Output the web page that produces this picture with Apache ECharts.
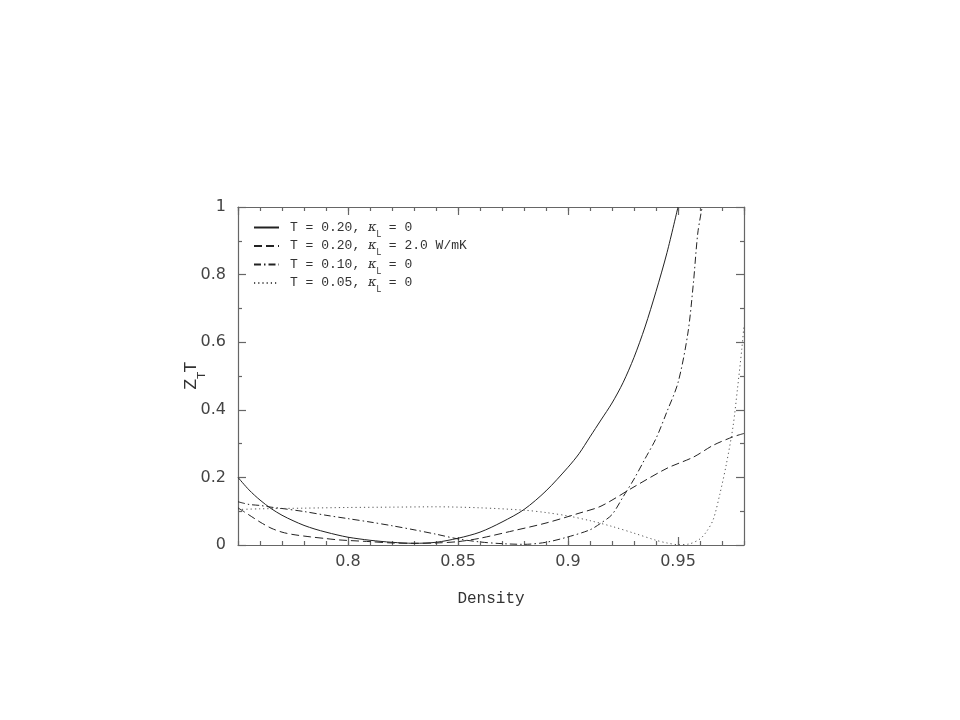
<!DOCTYPE html>
<html><head><meta charset="utf-8">
<script src="https://cdn.jsdelivr.net/npm/echarts@6/dist/echarts.min.js"></script>
<style>html,body{margin:0;background:#fff}#c{width:960px;height:720px}</style>
</head><body><div id="c"></div>
<script>
const seriesNames = ['T = 0.20, κL = 0', 'T = 0.20, κL = 2.0 W/mK', 'T = 0.10, κL = 0', 'T = 0.05, κL = 0'];

const solidX = [0.75,0.755,0.76,0.765,0.77,0.775,0.78,0.785,0.79,0.795,0.80,0.81,0.82,0.83,0.84,0.85,0.86,0.87,0.88,0.89,0.90,0.905,0.91,0.915,0.92,0.925,0.93,0.935,0.94,0.945,0.95];
const solidY = [0.200,0.163,0.133,0.108,0.088,0.072,0.058,0.047,0.038,0.030,0.023,0.014,0.008,0.005,0.008,0.020,0.038,0.068,0.105,0.160,0.230,0.270,0.320,0.370,0.420,0.480,0.555,0.645,0.750,0.865,1.000];

const dashedX = [0.75,0.755,0.76,0.765,0.77,0.775,0.783,0.79,0.796,0.81,0.82,0.83,0.84,0.85,0.86,0.875,0.89,0.905,0.915,0.93,0.945,0.957,0.966,0.975,0.98];
const dashedY = [0.110,0.089,0.068,0.050,0.038,0.031,0.024,0.019,0.015,0.010,0.006,0.005,0.006,0.010,0.020,0.042,0.065,0.094,0.115,0.172,0.227,0.260,0.295,0.320,0.330];

const dashDotX = [0.75,0.755,0.76,0.765,0.77,0.78,0.79,0.80,0.81,0.82,0.83,0.84,0.85,0.86,0.87,0.88,0.89,0.90,0.91,0.915,0.92,0.925,0.93,0.935,0.94,0.945,0.95,0.9545,0.957,0.959,0.961];
const dashDotY = [0.128,0.120,0.117,0.112,0.108,0.099,0.088,0.078,0.068,0.057,0.045,0.032,0.018,0.009,0.004,0.002,0.008,0.024,0.045,0.065,0.090,0.142,0.195,0.255,0.315,0.395,0.480,0.627,0.775,0.923,1.000];

const dottedX = [0.75,0.76,0.78,0.80,0.82,0.84,0.86,0.88,0.89,0.90,0.91,0.92,0.93,0.94,0.945,0.95,0.955,0.96,0.963,0.966,0.969,0.972,0.975,0.977,0.979,0.98];
const dottedY = [0.105,0.107,0.109,0.111,0.112,0.113,0.110,0.103,0.096,0.086,0.072,0.055,0.035,0.014,0.006,0.001,0.003,0.018,0.040,0.075,0.150,0.240,0.350,0.460,0.580,0.650];

const xMin = 0.75, xMax = 0.98, xMajor = 0.05, xMinor = 0.01;
const yMin = 0, yMax = 1, yMajor = 0.2;

function pairs(xs, ys) { return xs.map((x, i) => [x, ys[i]]); }

const lineColors = ['#222', '#222', '#222', '#555'];
const axisColor = '#666';
const labelFont = 'DejaVu Sans';
const monoFont = 'Liberation Mono';

function xAxisDef(pos, interval, tickLen, showLabel, showLine) {
  return {
    type: 'value', position: pos, min: xMin, max: xMax, interval: interval,
    axisLine: { show: showLine, onZero: false, lineStyle: { color: axisColor, width: 1.2 } },
    axisTick: { show: true, inside: true, length: tickLen, lineStyle: { color: axisColor, width: 1.2 } },
    axisLabel: { show: showLabel, showMinLabel: false, showMaxLabel: false, margin: 9,
      fontFamily: labelFont, fontSize: 16, color: '#444' },
    splitLine: { show: false }
  };
}
function yAxisDef(pos, showLabel) {
  const a = {
    type: 'value', position: pos, min: yMin, max: yMax, interval: yMajor,
    axisLine: { show: true, onZero: false, lineStyle: { color: axisColor, width: 1.2 } },
    axisTick: { show: true, inside: true, length: 8, lineStyle: { color: axisColor, width: 1.2 } },
    minorTick: { show: true, splitNumber: 2, length: 4, lineStyle: { color: axisColor, width: 1.2 } },
    axisLabel: { show: showLabel, margin: 12, fontFamily: labelFont, fontSize: 16, color: '#444' },
    splitLine: { show: false }
  };
  if (showLabel) {
    a.name = '{z|Z}{s|T}{z|T}';
    a.nameLocation = 'middle';
    a.nameRotate = 90;
    a.nameGap = 36;
    a.nameMoveOverlap = false;
    a.nameTextStyle = {
      rich: {
        z: { fontFamily: labelFont, fontSize: 16, color: '#333', lineHeight: 20, verticalAlign: 'middle' },
        s: { fontFamily: labelFont, fontSize: 11, color: '#333', lineHeight: 20, verticalAlign: 'bottom', padding: [0,0,-6,0] }
      }
    };
  }
  return a;
}

const styles = [
  { type: 'solid' },
  { type: [8, 4] },
  { type: [7, 3, 1.5, 3] },
  { type: [1.2, 3] }
];
const dataSets = [pairs(solidX, solidY), pairs(dashedX, dashedY), pairs(dashDotX, dashDotY), pairs(dottedX, dottedY)];

const chart = echarts.init(document.getElementById('c'));
chart.setOption({
  backgroundColor: '#fff',
  animation: false,
  grid: { left: 238, right: 216, top: 207, bottom: 175, containLabel: false },
  xAxis: [
    Object.assign(xAxisDef('bottom', xMajor, 8, true, true), {
      name: 'Density', nameLocation: 'middle', nameGap: 46,
      nameTextStyle: { fontFamily: monoFont, fontSize: 16, color: '#333' }
    }),
    xAxisDef('bottom', xMinor, 4, false, false),
    xAxisDef('top', xMajor, 8, false, true),
    xAxisDef('top', xMinor, 4, false, false)
  ],
  yAxis: [yAxisDef('left', true), yAxisDef('right', false)],
  legend: {
    orient: 'vertical', left: 248, top: 216,
    itemWidth: 25, itemHeight: 12, itemGap: 1,
    itemStyle: { opacity: 0 },
    data: seriesNames,
    formatter: function (name) {
      const parts = name.split('κL');
      return '{f|' + parts[0] + '}{k|κ}{s|L}{t|' + parts[1] + '}';
    },
    textStyle: {
      fontFamily: monoFont, fontSize: 13, color: '#333',
      rich: {
        f: { fontFamily: monoFont, fontSize: 13, color: '#333', lineHeight: 16, verticalAlign: 'middle', padding: [0,0,0,6] },
        t: { fontFamily: monoFont, fontSize: 13, color: '#333', lineHeight: 16, verticalAlign: 'middle' },
        k: { fontFamily: 'DejaVu Serif', fontStyle: 'italic', fontSize: 13, color: '#333', lineHeight: 16, verticalAlign: 'middle' },
        s: { fontFamily: labelFont, fontSize: 8, color: '#333', lineHeight: 16, verticalAlign: 'bottom', padding: [0,0,-3,0] }
      }
    }
  },
  series: seriesNames.map((n, i) => ({
    name: n, type: 'line', data: dataSets[i],
    xAxisIndex: 0, yAxisIndex: 0,
    showSymbol: false, symbol: 'none',
    smooth: 0.3, clip: true,
    lineStyle: Object.assign({ color: lineColors[i], width: 1 }, styles[i]),
    itemStyle: { color: lineColors[i] }
  }))
});
</script></body></html>
